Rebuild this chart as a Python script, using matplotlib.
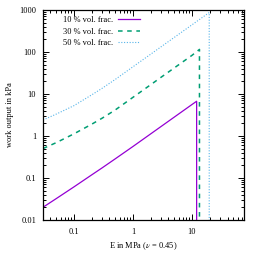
import matplotlib.pyplot as plt
from matplotlib.ticker import LogLocator, FixedLocator, NullFormatter

plt.rcParams['font.family'] = ['Liberation Serif', 'DejaVu Serif']
plt.rcParams['mathtext.fontset'] = 'stix'

# Young's modulus sample points (MPa)
E_10 = [0.03, 0.05, 0.1, 0.2, 0.3, 0.5, 1, 2, 3, 10, 12.0]
E_30 = [0.03, 0.05, 0.1, 0.2, 0.3, 0.5, 1, 2, 3, 10, 13.4]
E_50 = [0.03, 0.05, 0.1, 0.2, 0.3, 0.5, 1, 2, 3, 10, 19.6]

# work output (kPa)
W_10 = [0.020, 0.032, 0.061, 0.118, 0.173, 0.284, 0.56, 1.12, 1.68, 5.6, 6.7]
W_30 = [0.50, 0.69, 1.12, 1.90, 2.64, 4.14, 8.3, 16.6, 25.0, 83, 115]
W_50 = [2.4, 3.3, 5.25, 9.5, 13.6, 22.1, 44.3, 88.5, 133, 443, 870]

labels = ['10 % vol. frac.', '30 % vol. frac.', '50 % vol. frac.']
colors = ['#9400d3', '#009e73', '#56b4e9']

fig = plt.figure(figsize=(2.56, 2.56), dpi=100)
ax = fig.add_axes([0.168, 0.141, 0.785, 0.82])

series = [(E_10, W_10), (E_30, W_30), (E_50, W_50)]
styles = [dict(ls='-', lw=0.9), dict(ls=(0, (3, 3)), lw=1.1), dict(ls=(0, (1, 1.5)), lw=0.8)]
for (E, W), lab, c, st in zip(series, labels, colors, styles):
    # curve ends with a drop down to zero at the failure modulus
    x = E + [E[-1]]
    y = W + [1e-4]
    ax.plot(x, y, color=c, label=lab, **st)

ax.set_xscale('log')
ax.set_yscale('log')
ax.set_xlim(0.03, 76)
ax.set_ylim(0.01, 1000)

ax.xaxis.set_major_locator(FixedLocator([0.1, 1, 10]))
ax.set_xticklabels(['0.1', '1', '10'])
ax.xaxis.set_minor_locator(LogLocator(base=10, subs=range(2, 10), numticks=20))
ax.xaxis.set_minor_formatter(NullFormatter())
ax.yaxis.set_major_locator(FixedLocator([0.01, 0.1, 1, 10, 100, 1000]))
ax.set_yticklabels(['0.01', '0.1', '1', '10', '100', '1000'])
ax.yaxis.set_minor_locator(LogLocator(base=10, subs=range(2, 10), numticks=20))
ax.yaxis.set_minor_formatter(NullFormatter())

ax.tick_params(which='both', direction='in', top=True, right=True, labelsize=6, width=0.7)
ax.tick_params(axis='x', which='both', pad=6)
ax.tick_params(axis='y', which='both', pad=5)
ax.tick_params(which='major', length=4)
ax.tick_params(which='minor', length=2)
for s in ax.spines.values():
    s.set_linewidth(0.9)

ax.set_xlabel(r'E in MPa ($\nu$ = 0.45)', fontsize=6, labelpad=3)
ax.set_ylabel('work output in kPa', fontsize=6, labelpad=4)

ax.legend(loc='upper left', bbox_to_anchor=(0.07, 1.0), fontsize=6, frameon=False,
          markerfirst=False, handlelength=2.6, labelspacing=0.45, handletextpad=0.6,
          borderaxespad=0.3)

fig.savefig('out.png', dpi=100)
